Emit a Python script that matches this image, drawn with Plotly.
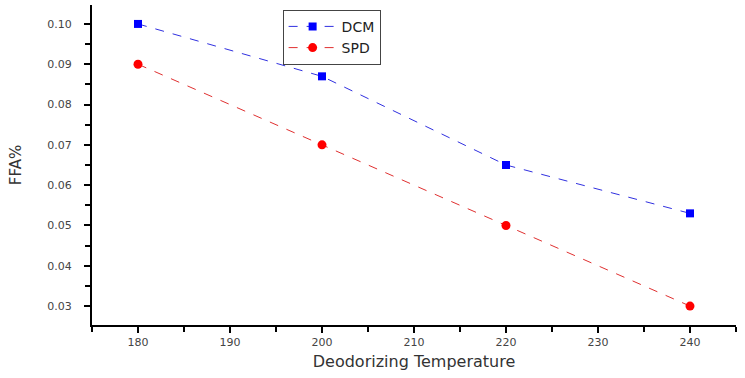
import plotly.graph_objects as go

temps = [180, 200, 220, 240]
dcm = [0.100, 0.087, 0.065, 0.053]
spd = [0.090, 0.070, 0.050, 0.030]
y_ticks = [0.03, 0.04, 0.05, 0.06, 0.07, 0.08, 0.09, 0.10]
y_labels = ["0.03", "0.04", "0.05", "0.06", "0.07", "0.08", "0.09", "0.10"]
x_ticks = [180, 190, 200, 210, 220, 230, 240]

fig = go.Figure()
fig.add_trace(go.Scatter(x=temps, y=dcm, name="DCM", mode="lines+markers",
                         line=dict(color="#3030e0", width=1, dash="dash"),
                         marker=dict(symbol="square", size=8, color="#0000ff")))
fig.add_trace(go.Scatter(x=temps, y=spd, name="SPD", mode="lines+markers",
                         line=dict(color="#e03030", width=1, dash="dash"),
                         marker=dict(symbol="circle", size=9, color="#ff0000")))

axis_font = dict(family="DejaVu Sans, sans-serif", size=11, color="#444")
fig.update_layout(
    width=745, height=378,
    margin=dict(l=92, r=9, t=5, b=53),
    plot_bgcolor="white", paper_bgcolor="white",
    font=dict(family="DejaVu Sans, sans-serif", color="#222"),
    showlegend=True,
    legend=dict(x=0.296, y=0.985, xanchor="left", yanchor="top",
                bordercolor="#444", borderwidth=1, bgcolor="white",
                font=dict(size=14, color="#222"), tracegroupgap=0, itemwidth=48),
    xaxis=dict(range=[175, 245], tickvals=x_ticks, ticks="outside", ticklen=6, tickwidth=2,
               tickcolor="black", showline=True, linecolor="black", linewidth=2,
               showgrid=False, zeroline=False, tickfont=axis_font,
               minor=dict(dtick=5, tick0=175, ticks="outside", ticklen=5, tickwidth=2, tickcolor="black"),
               title=dict(text="Deodorizing Temperature", font=dict(size=16, color="#333"), standoff=8)),
    yaxis=dict(range=[0.0253, 0.1047], tickvals=y_ticks, ticktext=y_labels, ticks="outside",
               ticklen=6, tickwidth=2, tickcolor="black", showline=True, linecolor="black",
               linewidth=2, showgrid=False, zeroline=False, tickfont=axis_font,
               ticklabelstandoff=10,
               minor=dict(dtick=0.005, tick0=0.025, ticks="outside", ticklen=5, tickwidth=2, tickcolor="black"),
               title=dict(text="FFA%", font=dict(size=15, color="#333"), standoff=22)),
)
fig.write_html("out.html")
